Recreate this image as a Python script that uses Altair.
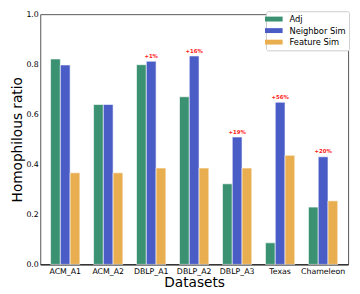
import altair as alt
import pandas as pd

datasets = ["ACM_A1", "ACM_A2", "DBLP_A1", "DBLP_A2", "DBLP_A3", "Texas", "Chameleon"]
series = ["Adj", "Neighbor Sim", "Feature Sim"]
adj = [0.821, 0.639, 0.798, 0.670, 0.322, 0.086, 0.229]
neighbor = [0.797, 0.639, 0.812, 0.833, 0.509, 0.648, 0.430]
feature = [0.366, 0.366, 0.385, 0.385, 0.385, 0.436, 0.254]
gain_labels = ["", "", "+1%", "+16%", "+19%", "+56%", "+20%"]
colors = ["#3a9273", "#4a5cc5", "#e8ae50"]

rows = []
for i, d in enumerate(datasets):
    for s, vals in zip(series, [adj, neighbor, feature]):
        rows.append({"dataset": d, "series": s, "value": vals[i]})
df = pd.DataFrame(rows)

ann = pd.DataFrame({
    "dataset": datasets,
    "series": ["Neighbor Sim"] * len(datasets),
    "value": neighbor,
    "label": gain_labels,
})
ann = ann[ann["label"] != ""]

FONT = "DejaVu Sans"

x_enc = alt.X(
    "dataset:N",
    sort=datasets,
    scale=alt.Scale(paddingInner=0.318, paddingOuter=0.24),
    axis=alt.Axis(
        title="Datasets", labelAngle=0, ticks=False, labelPadding=3,
        labelFontSize=8, titleFontSize=14, titleFontWeight="normal",
        titlePadding=1, domainColor="#000000", domainWidth=1,
        labelColor="#000000", titleColor="#000000", labelFont=FONT, titleFont=FONT,
    ),
)
xoff = alt.XOffset("series:N", sort=series, scale=alt.Scale(domain=series, paddingInner=0.0))
y_enc = alt.Y(
    "value:Q",
    scale=alt.Scale(domain=[0, 1], nice=False),
    axis=alt.Axis(
        title="Homophilous ratio", values=[0, 0.2, 0.4, 0.6, 0.8, 1.0], format=".1f",
        grid=False, ticks=False, labelPadding=2, labelFontSize=8,
        titleFontSize=14, titleFontWeight="normal", titlePadding=1,
        domain=False, labelColor="#000000", titleColor="#000000",
        labelFont=FONT, titleFont=FONT,
    ),
)

bars = alt.Chart(df).mark_bar(stroke="white", strokeWidth=0.6).encode(
    x=x_enc,
    xOffset=xoff,
    y=y_enc,
    color=alt.Color(
        "series:N", sort=series,
        scale=alt.Scale(domain=series, range=colors),
        legend=alt.Legend(
            title=None, orient="none", legendX=231, legendY=-3,
            symbolType="M-1.8,-0.5L1.8,-0.5L1.8,0.5L-1.8,0.5Z", symbolSize=100,
            symbolStrokeWidth=0, labelFontSize=8.5, labelFont=FONT,
            labelColor="#000000", labelOffset=11, rowPadding=1.8,
            padding=3, fillColor="white", strokeColor="#cccccc", cornerRadius=2,
        ),
    ),
)

labels = alt.Chart(ann).mark_text(
    color="#ff1a1a", fontSize=5.5, fontWeight="bold", font=FONT,
    baseline="middle", dy=-5.5,
).encode(
    x=alt.X("dataset:N", sort=datasets),
    xOffset=alt.XOffset("series:N", scale=alt.Scale(domain=series)),
    y="value:Q",
    text="label:N",
)

chart = alt.layer(bars, labels).properties(
    width=315, height=256,
    padding={"left": 33, "top": 3, "right": 4, "bottom": 27},
    autosize=alt.AutoSizeParams(type="none"),
).configure_view(stroke="#555555", strokeWidth=1)

chart.save("out.html", embed_options={"renderer": "svg", "actions": False})
